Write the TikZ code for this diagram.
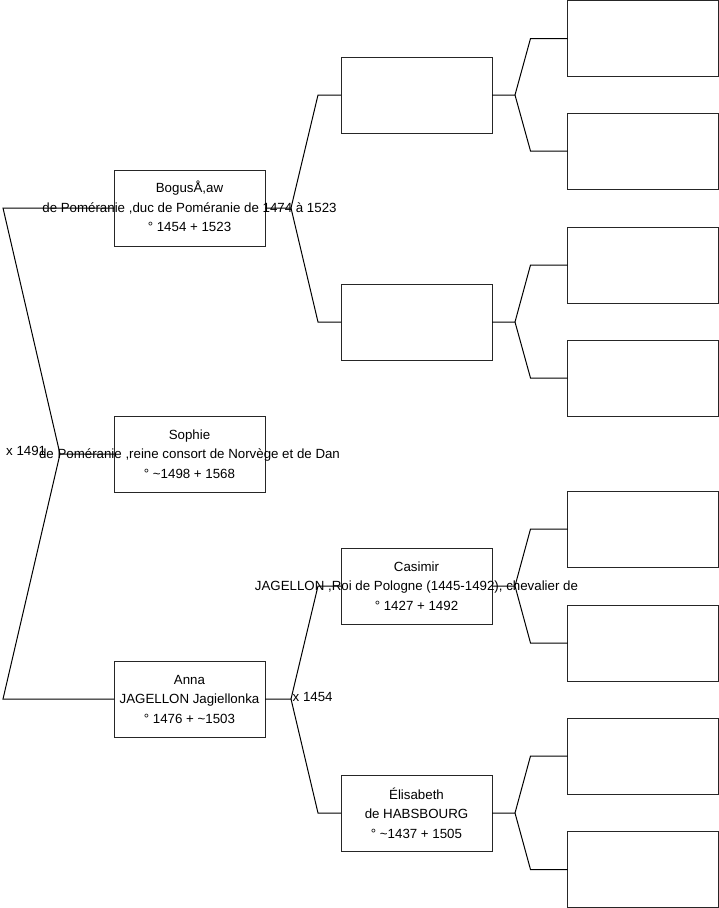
\documentclass[tikz,border=0pt]{standalone}
\usepackage{fontspec}
\setmainfont{Liberation Sans}
\begin{document}
\begin{tikzpicture}[x=1pt,y=-1pt,
  box/.style={draw=black!85,line width=1pt,minimum width=151pt,minimum height=76pt,inner sep=0pt,outer sep=0pt},
  txt/.style={align=center,inner sep=0pt,font=\fontsize{13.3}{19.5}\selectfont},
  lbl/.style={inner sep=0pt,font=\fontsize{13.3}{15}\selectfont},
  link/.style={draw=black,line width=1pt}]
\useasboundingbox (0,0) rectangle (719,908);
% level 1
\node[box] (bog) at (189.5,208) {};
\node[box] (soph) at (189.5,454) {};
\node[box] (anna) at (189.5,699) {};
% level 2
\node[box] (p1) at (416.5,95) {};
\node[box] (p2) at (416.5,322) {};
\node[box] (cas) at (416.5,586) {};
\node[box] (eli) at (416.5,813) {};
% level 3
\node[box] (g1) at (643,38.5) {};
\node[box] (g2) at (643,151) {};
\node[box] (g3) at (643,265) {};
\node[box] (g4) at (643,378) {};
\node[box] (g5) at (643,529) {};
\node[box] (g6) at (643,643) {};
\node[box] (g7) at (643,756) {};
\node[box] (g8) at (643,869.5) {};
% texts
\node[txt] (tbog) at ([yshift=1.5pt]bog.center) {BogusÅ,aw\\de Poméranie ,duc de Poméranie de 1474 à 1523\\° 1454 + 1523};
\node[txt] (tsoph) at (soph.center) {Sophie\\de Poméranie ,reine consort de Norvège et de Dan\\° \textasciitilde1498 + 1568};
\node[txt] (tanna) at (anna.center) {Anna\\JAGELLON Jagiellonka\\° 1476 + \textasciitilde1503};
\node[txt] (tcas) at (cas.center) {Casimir\\JAGELLON ,Roi de Pologne (1445-1492), chevalier de\\° 1427 + 1492};
\node[txt] (teli) at (eli.center) {Élisabeth\\de HABSBOURG\\° \textasciitilde1437 + 1505};
% fork vertices
\coordinate (f0) at (60,454);
\coordinate (f1) at (291,208);
\coordinate (f2) at (291,699);
\coordinate (f3) at (515,95);
\coordinate (f4) at (515,322);
\coordinate (f5) at (515,586);
\coordinate (f6) at (515,813);
% connectors
\draw[link] (soph.west) -- (f0) -- ([xshift=-111pt]bog.west) -- (bog.west);
\draw[link] (f0) -- ([xshift=-111pt]anna.west) -- (anna.west);
\draw[link] (bog.east) -- (f1) -- ([xshift=-23pt]p1.west) -- (p1.west);
\draw[link] (f1) -- ([xshift=-23pt]p2.west) -- (p2.west);
\draw[link] (anna.east) -- (f2) -- ([xshift=-23pt]cas.west) -- (cas.west);
\draw[link] (f2) -- ([xshift=-23pt]eli.west) -- (eli.west);
\draw[link] (p1.east) -- (f3) -- ([xshift=-37pt]g1.west) -- (g1.west);
\draw[link] (f3) -- ([xshift=-37pt]g2.west) -- (g2.west);
\draw[link] (p2.east) -- (f4) -- ([xshift=-37pt]g3.west) -- (g3.west);
\draw[link] (f4) -- ([xshift=-37pt]g4.west) -- (g4.west);
\draw[link] (cas.east) -- (f5) -- ([xshift=-37pt]g5.west) -- (g5.west);
\draw[link] (f5) -- ([xshift=-37pt]g6.west) -- (g6.west);
\draw[link] (eli.east) -- (f6) -- ([xshift=-37pt]g7.west) -- (g7.west);
\draw[link] (f6) -- ([xshift=-37pt]g8.west) -- (g8.west);
% marriage labels
\node[lbl,anchor=west] (m0) at (6,451) {x 1491};
\node[lbl,anchor=west] (m1) at (292.5,697) {x 1454};
\end{tikzpicture}
\end{document}
